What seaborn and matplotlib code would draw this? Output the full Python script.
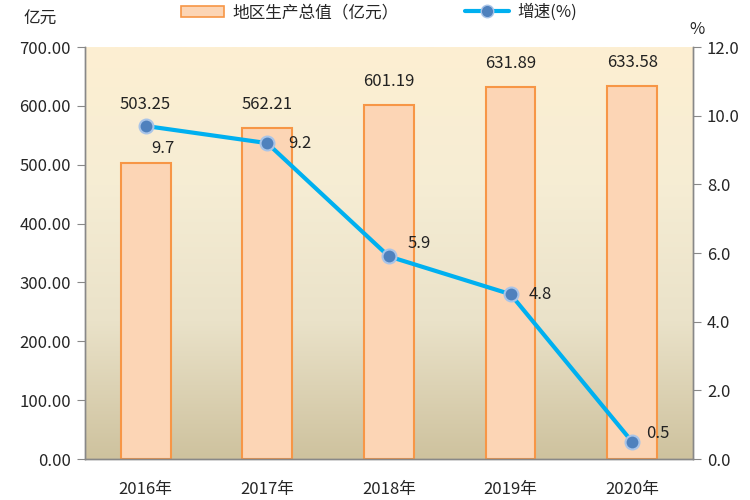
import numpy as np
import pandas as pd
import matplotlib
matplotlib.use("Agg")
import matplotlib.pyplot as plt
import seaborn as sns
from matplotlib.colors import LinearSegmentedColormap
from matplotlib.patches import Patch
from matplotlib.lines import Line2D

# data
years = ["2016年", "2017年", "2018年", "2019年", "2020年"]
gdp = [503.25, 562.21, 601.19, 631.89, 633.58]
growth = [9.7, 9.2, 5.9, 4.8, 0.5]

sns.set_style("white")
plt.rcParams['font.family'] = ['Noto Sans CJK SC', 'DejaVu Sans']

df = pd.DataFrame({"year": years, "gdp": gdp, "growth": growth})
df["pos"] = np.arange(len(df))

fig = plt.figure(figsize=(7.5, 5), dpi=100)
ax = fig.add_axes([0.113, 0.082, 0.811, 0.824])

# gradient background
cmap = LinearSegmentedColormap.from_list("bg", ["#CEC29E", "#EAE2C9", "#F6EDD4", "#FDEFD2"])
grad = np.linspace(0, 1, 256).reshape(-1, 1)
ax.imshow(grad, aspect="auto", cmap=cmap, origin="lower",
          extent=[0, 1, 0, 1], transform=ax.transAxes, zorder=0)

sns.barplot(data=df, x="year", y="gdp", ax=ax, color="#FCD5B5",
            edgecolor="#F79646", linewidth=1.5, width=0.41, saturation=1, zorder=2)
ax.set_xlim(-0.5, 4.5)
ax.set_ylim(0, 700)
ax.set_yticks(np.arange(0, 701, 100))
ax.set_yticklabels([f"{v:.2f}" for v in np.arange(0, 701, 100)])
ax.set_xlabel("")
ax.set_ylabel("")

bar_offsets = [58, 24, 24, 24, 24]
for i, v in enumerate(gdp):
    ax.annotate(f"{v:.2f}", (i, v), xytext=(0, bar_offsets[i] * 0.72),
                textcoords="offset points", ha="center", va="center",
                fontsize=12, color="#222222", zorder=5)

ax2 = ax.twinx()
sns.lineplot(data=df, x="pos", y="growth", ax=ax2, color="#00B0F0", linewidth=3,
             marker="o", markersize=10, markerfacecolor="#4F81BD",
             markeredgecolor="#A8C4E8", markeredgewidth=1.5, zorder=4)
ax2.set_ylim(0, 12)
ax2.set_yticks(np.arange(0, 12.1, 2))
ax2.set_yticklabels([f"{v:.1f}" for v in np.arange(0, 12.1, 2)])
ax2.set_ylabel("")
ax2.set_xlabel("")
ax2.set_xlim(-0.5, 4.5)

line_offsets = [(17, -23), (33, 0), (30, 13), (30, 0), (26, 8)]
for i, v in enumerate(growth):
    dx, dy = line_offsets[i]
    ax2.annotate(f"{v}", (i, v), xytext=(dx * 0.72, dy * 0.72),
                 textcoords="offset points", ha="center", va="center",
                 fontsize=12, color="#222222")

# ticks and spines
ax.set_xticks(np.arange(len(years)))
ax.set_xticklabels(years)
ax.set_xticks(np.arange(-0.5, 4.6, 1), minor=True)
ax.tick_params(axis="x", which="major", length=0, pad=16, labelsize=12)
ax.tick_params(axis="x", which="minor", length=6, color="#888888", direction="out")
ax.tick_params(axis="y", length=6, color="#888888", direction="out", labelsize=12, pad=4)
ax2.tick_params(axis="y", length=6, color="#888888", direction="out", labelsize=12, pad=4)
for a in (ax, ax2):
    a.spines["top"].set_visible(False)
    for s in ("left", "right", "bottom"):
        a.spines[s].set_color("#888888")
        a.spines[s].set_linewidth(1)

fig.text(0.053, 0.962, "亿元", fontsize=12, ha="center", va="center")
fig.text(0.929, 0.942, "%", fontsize=12, ha="center", va="center")

handles = [Patch(facecolor="#FCD5B5", edgecolor="#F79646", linewidth=1.2),
           Line2D([0], [0], color="#00B0F0", linewidth=3, marker="o", markersize=9,
                  markerfacecolor="#4F81BD", markeredgecolor="#A8C4E8")]
fig.legend(handles, ["地区生产总值（亿元）", "增速(%)"], loc="center",
           bbox_to_anchor=(0.505, 0.975), ncol=2, frameon=False, fontsize=12,
           handlelength=2.6, columnspacing=4, handletextpad=0.5)

plt.savefig("out.png")
